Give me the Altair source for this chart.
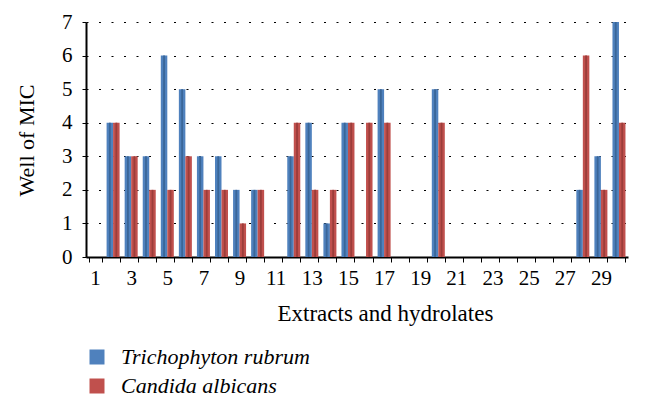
import altair as alt
import pandas as pd

categories = list(range(1, 31))
trichophyton = [0, 4, 3, 3, 6, 5, 3, 3, 2, 2, 0, 3, 4, 1, 4, 0, 5, 0, 0, 5, 0, 0, 0, 0, 0, 0, 0, 2, 3, 7]
candida = [0, 4, 3, 2, 2, 3, 2, 2, 1, 2, 0, 4, 2, 2, 4, 4, 4, 0, 0, 4, 0, 0, 0, 0, 0, 0, 0, 6, 2, 4]
series_names = ["Trichophyton rubrum", "Candida albicans"]
colors = ["#4F81BD", "#C0504D"]
side_colors = ["#3A6698", "#9B3D3A"]

rows = []
for c, a, b in zip(categories, trichophyton, candida):
    rows.append({"cat": c, "series": series_names[0], "value": a})
    rows.append({"cat": c, "series": series_names[1], "value": b})
df = pd.DataFrame(rows)

font = "'Liberation Serif', 'DejaVu Serif', serif"

x_enc = alt.X("cat:O",
              scale=alt.Scale(paddingInner=0.28, paddingOuter=0.14),
              axis=alt.Axis(title="Extracts and hydrolates", labelAngle=0,
                            labelExpr="datum.value % 2 == 1 ? datum.label : ''",
                            tickBand="extent", tickSize=5, tickColor="black",
                            domainColor="black", domainWidth=2,
                            labelFont=font, labelFontSize=21, labelColor="black",
                            labelPadding=5,
                            titleFont=font, titleFontSize=23, titleFontWeight="normal",
                            titleColor="black", titleX=191, titleY=63,
                            titleAlign="left", titleBaseline="alphabetic"))
xoff = alt.XOffset("series:N", sort=series_names)
y_enc = alt.Y("value:Q",
              scale=alt.Scale(domain=[0, 7]),
              axis=alt.Axis(title="Well of MIC", values=list(range(0, 8)),
                            grid=True, gridDash=[2, 10.5], gridColor="black", gridWidth=1.2,
                            tickSize=4, tickColor="black", domainColor="black", domainWidth=2,
                            labelFont=font, labelFontSize=21, labelColor="black",
                            labelPadding=10,
                            titleFont=font, titleFontSize=22, titleFontWeight="normal",
                            titleColor="black", titleX=-53, titleY=118,
                            titleAngle=270, titleAlign="center",
                            titleBaseline="alphabetic"))

bars = alt.Chart(df).mark_bar().encode(
    x=x_enc, xOffset=xoff, y=y_enc,
    color=alt.Color("series:N",
                    scale=alt.Scale(domain=series_names, range=colors),
                    legend=alt.Legend(title=None, orient="none", legendX=0, legendY=324,
                                      direction="vertical", symbolType="square",
                                      symbolSize=225, symbolStrokeWidth=0,
                                      labelFont=font, labelFontSize=22,
                                      labelFontStyle="italic", labelColor="black",
                                      labelLimit=400,
                                      rowPadding=7, labelOffset=13)),
)

sides = alt.Chart(df).mark_bar(width=1.8, xOffset=2.3).encode(
    x=x_enc, xOffset=xoff, y=y_enc,
    fill=alt.Fill("series:N", scale=alt.Scale(domain=series_names, range=side_colors),
                  legend=None),
)

chart = alt.layer(bars, sides).resolve_scale(fill="independent").properties(
    width=542, height=235,
    autosize=alt.AutoSizeParams(type="none"),
    padding={"left": 78, "top": 14, "right": 9, "bottom": 142},
).configure_view(stroke=None).configure_axis(grid=False)

chart = chart.configure_axisY(grid=True)

chart.save("out.html", embed_options={"renderer": "svg", "actions": False})
